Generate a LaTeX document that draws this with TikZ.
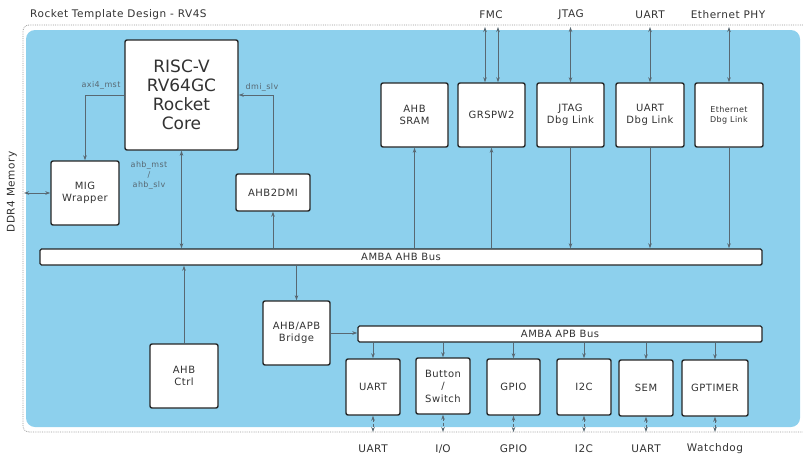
\documentclass[tikz,border=0pt]{standalone}
\usepackage{fontspec}
\setmainfont{DejaVu Sans}
\newfontfamily\widefont{DejaVu Sans}[LetterSpace=5]
\usetikzlibrary{positioning, calc, arrows.meta}
\definecolor{socblue}{RGB}{141,208,237}
\definecolor{wire}{RGB}{88,104,114}
\definecolor{txt}{RGB}{50,50,50}

\begin{document}
\begin{tikzpicture}[
    x=1pt, y=-1pt,
    block/.style={draw=black!85, line width=1.4pt, rounded corners=2pt, fill=white,
      text=txt, font=\widefont\fontsize{10}{12.5}\selectfont, align=center, inner sep=1pt},
    bus/.style={draw=black!85, line width=1.4pt, rounded corners=1.5pt, fill=white,
      text=txt, font=\widefont\fontsize{10}{12}\selectfont, minimum height=16pt, inner sep=0pt},
    wire/.style={draw=wire, line width=0.8pt, -{Stealth[length=5pt, width=3.5pt]}},
    wire2/.style={wire, {Stealth[length=5pt, width=3.5pt]}-{Stealth[length=5pt, width=3.5pt]}},
    ext/.style={wire2, densely dashed},
    sig/.style={text=wire, font=\widefont\fontsize{8}{10}\selectfont, inner sep=1pt, align=center},
    pin/.style={text=txt, font=\widefont\fontsize{10.5}{12}\selectfont, inner sep=1pt}
  ]
  \useasboundingbox (0,0) rectangle (803,455);
  \draw[black!40, densely dotted, line width=0.8pt, rounded corners=6pt]
    (810,25) -- (23,25) -- (23,432) -- (810,432);
  \fill[socblue, rounded corners=9pt] (26,30) rectangle (800,427);
  \node[pin, anchor=west] (title) at (29,15) {Rocket Template Design - RV4S};
  \node[pin, rotate=90] (ddrlbl) at (12,192) {DDR4 Memory};

  \node[block, minimum width=113pt, minimum height=110pt,
        font=\fontsize{17}{19}\selectfont] (core) at (181.5,95) {RISC-V\\RV64GC\\Rocket\\Core};
  \node[block, minimum width=68pt, minimum height=64pt] (mig) at (85,193) {MIG\\Wrapper};
  \node[block, minimum width=74pt, minimum height=37pt] (ahbdmi) at (273,192.5) {AHB2DMI};
  \node[bus, minimum width=722pt] (ahbbus) at (401,257) {AMBA AHB Bus};
  \node[block, minimum width=68pt, minimum height=64pt] (ahbctrl) at (184,376) {AHB\\Ctrl};
  \node[block, minimum width=67pt, minimum height=64pt] (bridge) at (296.5,333) {AHB/APB\\Bridge};
  \node[bus, minimum width=404pt] (apbbus) at (560,334) {AMBA APB Bus};

  \node[block, minimum width=67pt, minimum height=64pt] (sram) at (414.5,115) {AHB\\SRAM};
  \node[block, minimum width=67pt, minimum height=64pt] (grspw) at (491.5,115) {GRSPW2};
  \node[block, minimum width=67pt, minimum height=64pt] (jtag) at (570.5,115) {JTAG\\Dbg Link};
  \node[block, minimum width=68pt, minimum height=64pt] (uartdbg) at (650,115) {UART\\Dbg Link};
  \node[block, minimum width=68pt, minimum height=64pt,
        font=\widefont\fontsize{8}{10}\selectfont] (ethdbg) at (729,115) {Ethernet\\Dbg Link};

  \node[block, minimum width=54pt, minimum height=56pt] (uart) at (373,387) {UART};
  \node[block, minimum width=54pt, minimum height=56pt] (btn) at (443,386) {Button\\/\\Switch};
  \node[block, minimum width=53pt, minimum height=56pt] (gpio) at (513.5,387) {GPIO};
  \node[block, minimum width=54pt, minimum height=56pt] (i2c) at (584,387) {I2C};
  \node[block, minimum width=54pt, minimum height=56pt] (sem) at (646,388) {SEM};
  \node[block, minimum width=66pt, minimum height=56pt] (gptimer) at (715,388) {GPTIMER};

  \node[sig] (axilbl) at (101,85) {axi4\_mst};
  \node[sig] (dmilbl) at (262,87) {dmi\_slv};
  \node[sig] (ahblbl) at (149,175) {ahb\_mst\\/\\ahb\_slv};

  \draw[wire] (core.west) -| (mig.north);
  \draw[wire] (ahbdmi.north) |- (core.east);
  \draw[wire2] (core.south) -- (core.south |- ahbbus.north);
  \draw[wire] (ahbdmi.south |- ahbbus.north) -- (ahbdmi.south);
  \coordinate (ddr) at (24,193);
  \draw[wire2] (ddr) -- (mig.west);
  \draw[wire] (ahbctrl.north) -- (ahbctrl.north |- ahbbus.south);
  \draw[wire] (bridge.north |- ahbbus.south) -- (bridge.north);
  \draw[wire] (bridge.east) -- (bridge.east -| apbbus.west);

  \draw[wire] (sram.south |- ahbbus.north) -- (sram.south);
  \draw[wire] (grspw.south |- ahbbus.north) -- (grspw.south);
  \draw[wire] (jtag.south) -- (jtag.south |- ahbbus.north);
  \draw[wire] (uartdbg.south) -- (uartdbg.south |- ahbbus.north);
  \draw[wire] (ethdbg.south) -- (ethdbg.south |- ahbbus.north);

  \node[pin] (fmc) at (491,15) {FMC};
  \node[pin] (jtagpin) at (571,15) {JTAG};
  \node[pin] (uartpin) at (650,15) {UART};
  \node[pin] (ethpin) at (728,15) {Ethernet PHY};
  \coordinate (fmca) at (485,27);
  \coordinate (fmcb) at (498,27);
  \draw[wire2] (fmca) -- (fmca |- grspw.north);
  \draw[wire2] (fmcb) -- (fmcb |- grspw.north);
  \draw[wire2] (jtag.north |- fmca) -- (jtag.north);
  \draw[wire2] (uartdbg.north |- fmca) -- (uartdbg.north);
  \draw[wire2] (ethdbg.north |- fmca) -- (ethdbg.north);

  \foreach \p/\t in {uart/UART, btn/I\slash O, gpio/GPIO, i2c/I2C, sem/UART, gptimer/Watchdog} {
    \draw[wire] (\p.north |- apbbus.south) -- (\p.north);
    \coordinate (\p-io) at ($(\p.south)!1!(\p.south |- 0,432)$);
    \draw[ext] (\p.south) -- (\p-io);
    \node[pin] (\p-lbl) at (\p.south |- 0,449) {\t};
  }
\end{tikzpicture}
\end{document}
